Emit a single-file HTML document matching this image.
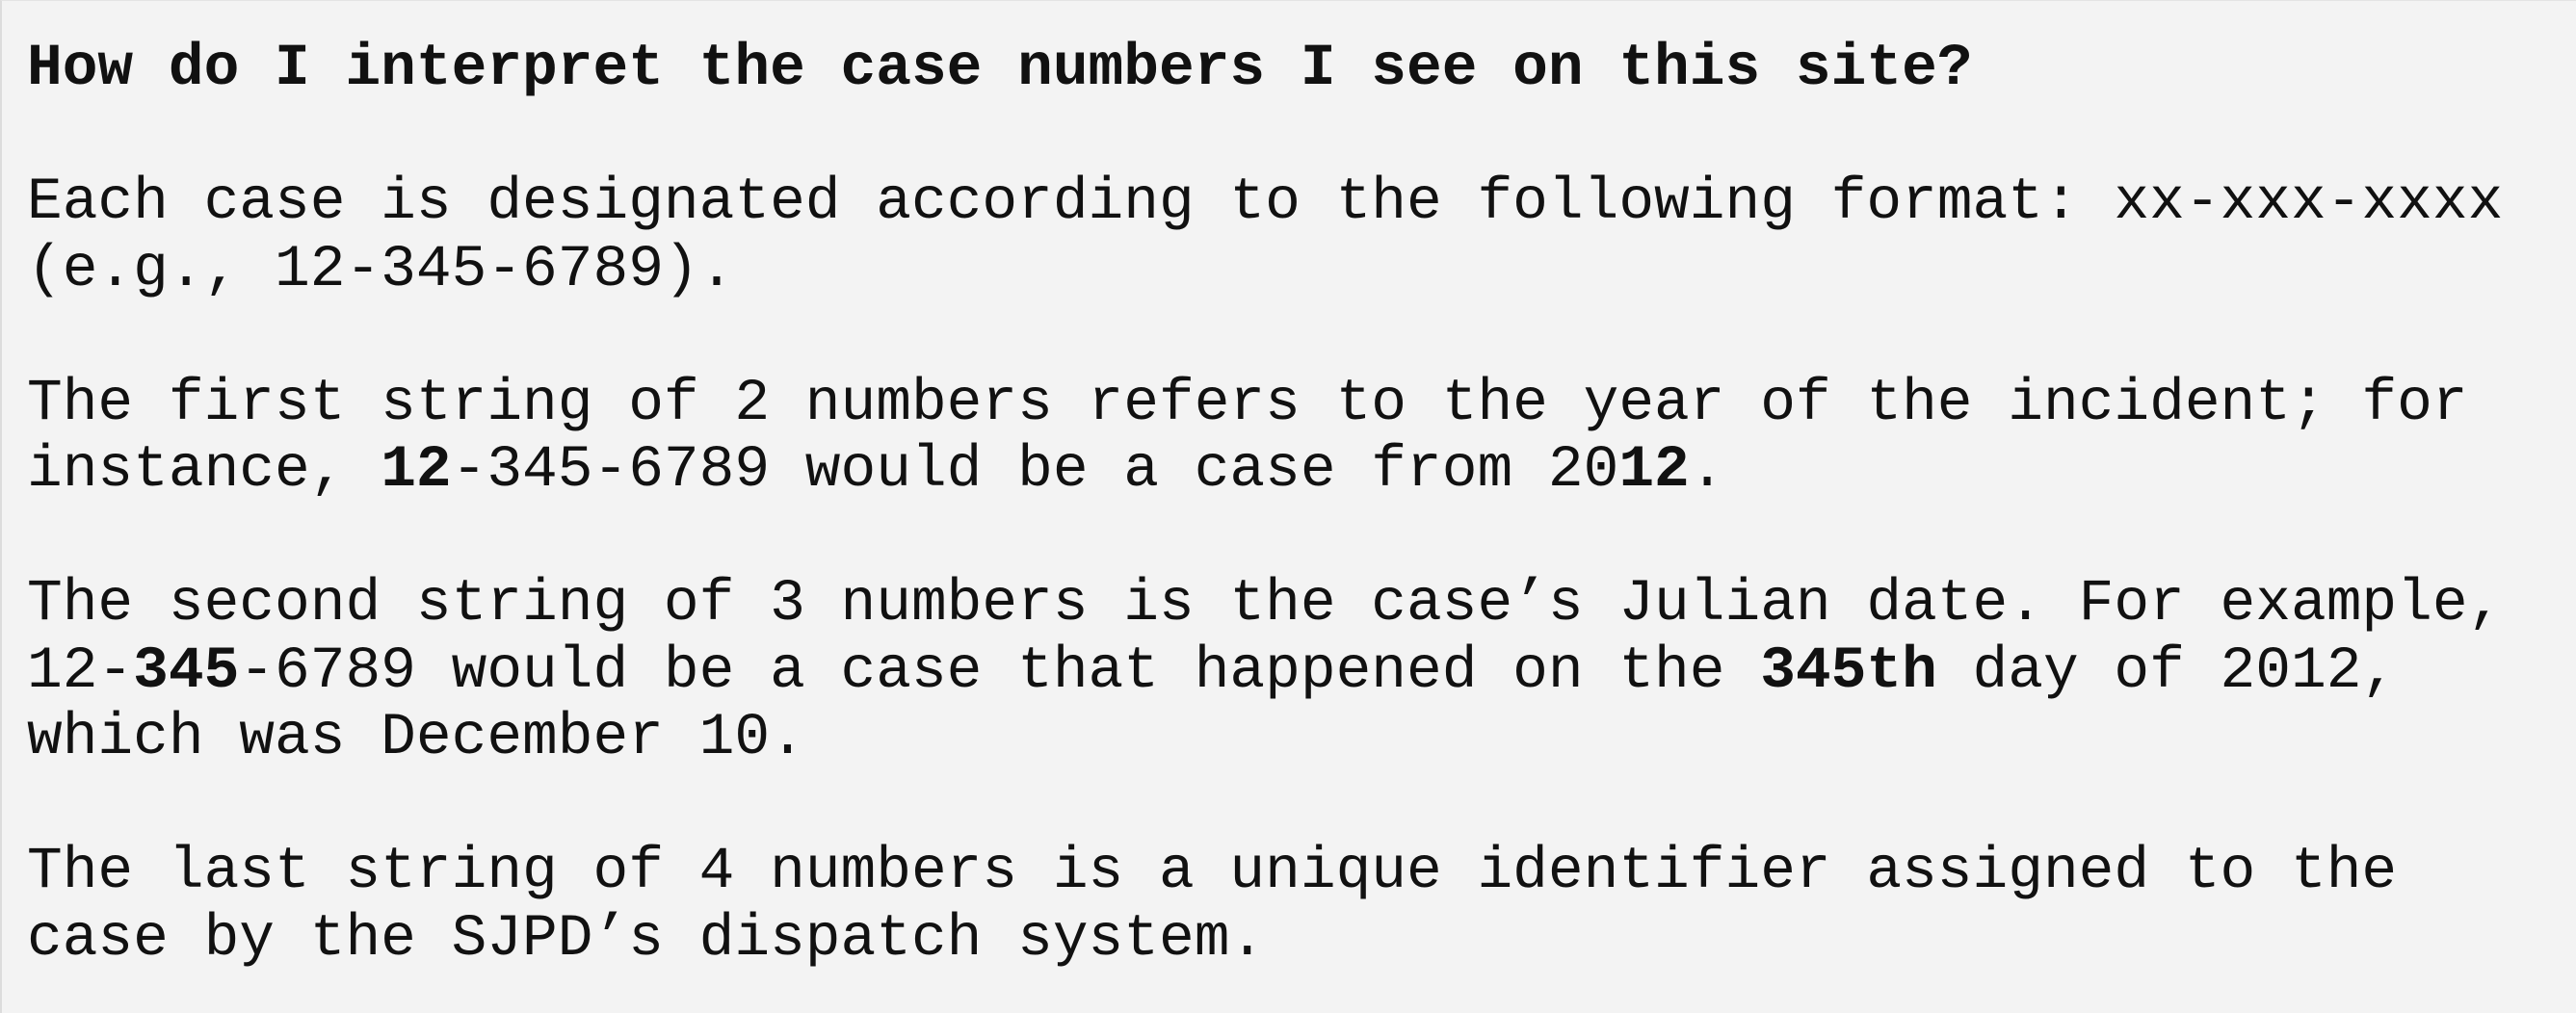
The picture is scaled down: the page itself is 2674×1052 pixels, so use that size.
<!DOCTYPE html>
<html>
<head>
<meta charset="utf-8">
<style>
  html, body { margin: 0; padding: 0; }
  body {
    width: 2674px; height: 1052px; overflow: hidden; position: relative;
    background: #f3f3f3;
    box-sizing: border-box;
    border-left: 2px solid #dcdcdc;
    border-top: 1px solid #e4e4e4;
  }
  .faq {
    position: absolute; left: 26px; top: 36px;
    font-family: "Liberation Mono", "DejaVu Sans Mono", monospace;
    font-size: 61.2px; line-height: 69.5px;
    color: #111;
  }
  .faq div { height: 69.5px; white-space: pre; }
  b { font-weight: bold; }
</style>
</head>
<body>
<div class="faq"><div><b>How do I interpret the case numbers I see on this site?</b></div><div></div><div>Each case is designated according to the following format: xx-xxx-xxxx</div><div>(e.g., 12-345-6789).</div><div></div><div>The first string of 2 numbers refers to the year of the incident; for</div><div>instance, <b>12</b>-345-6789 would be a case from 20<b>12</b>.</div><div></div><div>The second string of 3 numbers is the case’s Julian date. For example,</div><div>12-<b>345</b>-6789 would be a case that happened on the <b>345th</b> day of 2012,</div><div>which was December 10.</div><div></div><div>The last string of 4 numbers is a unique identifier assigned to the</div><div>case by the SJPD’s dispatch system.</div></div>
</body>
</html>
